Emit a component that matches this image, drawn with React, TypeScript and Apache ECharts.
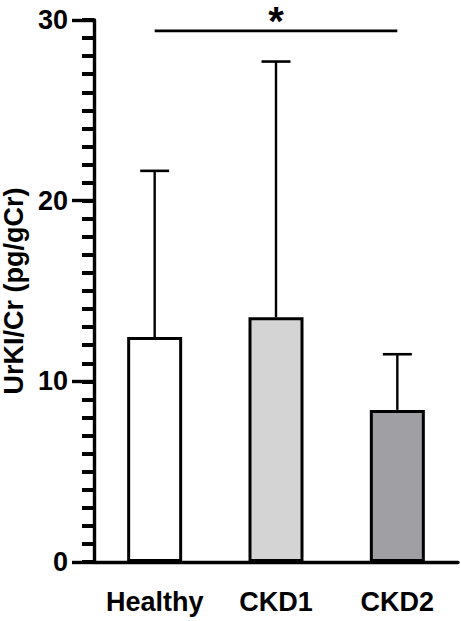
import React, { useEffect, useRef } from "react";
import * as echarts from "echarts";

const categories = ["Healthy", "CKD1", "CKD2"];
const means = [12.45, 13.55, 8.42];
const sds = [9.2, 14.15, 3.08];
const barColors = ["#ffffff", "#d4d4d4", "#a0a0a4"];
const yTicks = [0, 10, 20, 30];
const sigFrom = ["Healthy"];
const sigTo = ["CKD2"];
const sigLevel = [29.4];
const sigLabel = ["*"];
const yTitle = "UrKI/Cr (pg/gCr)";

const FONT = "Arial, 'Liberation Sans', Helvetica, sans-serif";

export default function App() {
  const ref = useRef<HTMLDivElement>(null);
  useEffect(() => {
    if (!ref.current) return;
    const chart = echarts.init(ref.current, undefined, { renderer: "svg" });
    const errData = categories.map((c, i) => [i, means[i], means[i] + sds[i]]);
    const sigData = sigFrom.map((f, i) => [
      categories.indexOf(f),
      categories.indexOf(sigTo[i]),
      sigLevel[i],
    ]);
    const yMin = yTicks[0];
    const yMax = yTicks[yTicks.length - 1];
    chart.setOption({
      animation: false,
      backgroundColor: "#ffffff",
      grid: {
        left: 94,
        right: 3,
        top: 20,
        bottom: 59,
        containLabel: false,
        outerBoundsMode: "none",
      },
      xAxis: {
        type: "category",
        data: categories,
        axisLine: { lineStyle: { color: "#000", width: 3.4 } },
        axisTick: { alignWithLabel: true, length: 22, lineStyle: { color: "#000", width: 3.4 } },
        axisLabel: {
          interval: 0,
          color: "#000",
          fontSize: 27,
          fontWeight: "bold",
          fontFamily: FONT,
          margin: 26,
        },
      },
      yAxis: [
        {
          type: "value",
          min: yMin,
          max: yMax,
          interval: 10,
          name: yTitle,
          nameLocation: "middle",
          nameGap: 66,
          nameTextStyle: {
            color: "#000",
            fontSize: 27,
            fontWeight: "bold",
            fontFamily: FONT,
          },
          axisLine: { show: true, lineStyle: { color: "#000", width: 3.4 } },
          axisTick: { show: true, length: 22, lineStyle: { color: "#000", width: 3.4 } },
          splitLine: { show: false },
          axisLabel: {
            color: "#000",
            fontSize: 27,
            fontWeight: "bold",
            fontFamily: FONT,
            margin: 26,
          },
          z: 5,
        },
        {
          type: "value",
          position: "left",
          min: yMin,
          max: yMax,
          interval: 1,
          axisLine: { show: false },
          axisTick: { show: true, length: 12, lineStyle: { color: "#000", width: 4 } },
          axisLabel: { show: false },
          splitLine: { show: false },
          z: 4,
        },
      ],
      series: [
        {
          type: "bar",
          barWidth: 55,
          data: means.map((v, i) => ({
            value: v,
            itemStyle: { color: barColors[i], borderColor: "#000", borderWidth: 3 },
          })),
          z: 2,
        },
        {
          type: "custom",
          z: 3,
          data: errData,
          renderItem: (params: any, api: any) => {
            const x = api.value(0);
            const lo = api.coord([x, api.value(1)]);
            const hi = api.coord([x, api.value(2)]);
            const half = 14.5;
            return {
              type: "group",
              children: [
                {
                  type: "line",
                  shape: { x1: lo[0], y1: lo[1], x2: hi[0], y2: hi[1] },
                  style: { stroke: "#000", lineWidth: 2.4 },
                },
                {
                  type: "line",
                  shape: { x1: hi[0] - half, y1: hi[1], x2: hi[0] + half, y2: hi[1] },
                  style: { stroke: "#000", lineWidth: 2.6 },
                },
              ],
            };
          },
        },
        {
          type: "custom",
          z: 3,
          data: sigData,
          renderItem: (params: any, api: any) => {
            const a = api.coord([api.value(0), api.value(2)]);
            const b = api.coord([api.value(1), api.value(2)]);
            return {
              type: "group",
              children: [
                {
                  type: "line",
                  shape: { x1: a[0], y1: a[1], x2: b[0], y2: b[1] },
                  style: { stroke: "#000", lineWidth: 2.6 },
                },
                {
                  type: "text",
                  style: {
                    text: sigLabel[params.dataIndex],
                    x: (a[0] + b[0]) / 2,
                    y: a[1] + 10,
                    align: "center",
                    verticalAlign: "bottom",
                    fill: "#000",
                    font: `bold 40px ${FONT}`,
                  },
                },
              ],
            };
          },
        },
      ],
    });
    return () => chart.dispose();
  }, []);
  return (
    <div
      ref={ref}
      style={{ position: "fixed", left: 0, top: 0, width: 461, height: 621, background: "#fff" }}
    />
  );
}
